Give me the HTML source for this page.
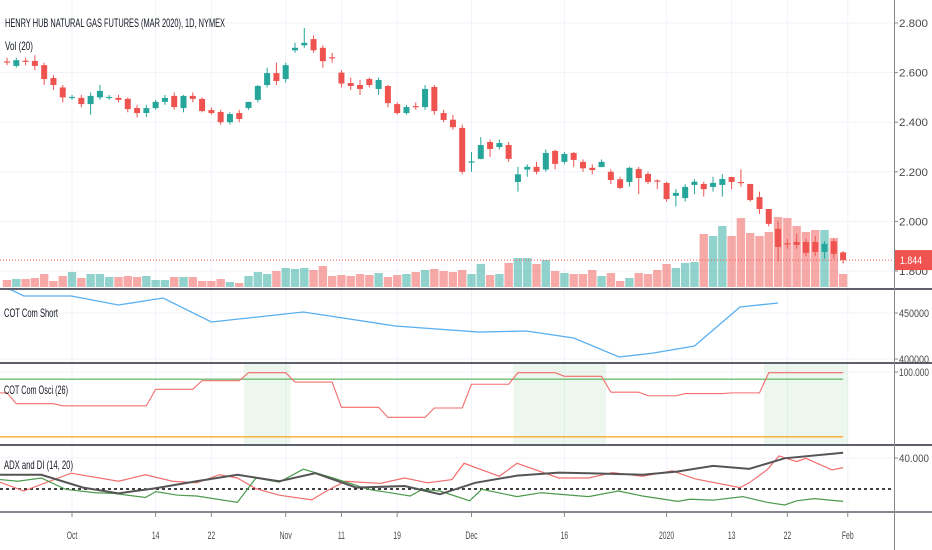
<!DOCTYPE html>
<html><head><meta charset="utf-8"><style>
html,body{margin:0;padding:0;background:#fff;}
svg{display:block;font-family:"Liberation Sans",sans-serif;}
</style></head><body>
<svg id="chart" width="932" height="550" viewBox="0 0 932 550" xmlns="http://www.w3.org/2000/svg">
<g id="grid"></g>
<g id="vol"></g>
<g id="candles"></g>
<g id="panes"></g>
<g id="axes"></g>
<text x="5" y="27" font-size="12" fill="#131722" textLength="220" lengthAdjust="spacingAndGlyphs">HENRY HUB NATURAL GAS FUTURES (MAR 2020), 1D, NYMEX</text>
<text x="5" y="50" font-size="12" fill="#131722" textLength="28" lengthAdjust="spacingAndGlyphs">Vol (20)</text>
<text x="4" y="317" font-size="12" fill="#131722" textLength="54" lengthAdjust="spacingAndGlyphs">COT Com Short</text>
<text x="4" y="394" font-size="12" fill="#131722" textLength="64" lengthAdjust="spacingAndGlyphs">COT Com Osci (26)</text>
<text x="4" y="469" font-size="12" fill="#131722" textLength="69" lengthAdjust="spacingAndGlyphs">ADX and DI (14, 20)</text>
</svg>
<script>
const opens=[2.645,2.627,2.648,2.647,2.630,2.578,2.540,2.500,2.498,2.473,2.500,2.500,2.498,2.494,2.457,2.437,2.457,2.482,2.506,2.457,2.506,2.494,2.449,2.441,2.400,2.437,2.457,2.490,2.550,2.598,2.574,2.690,2.710,2.735,2.700,2.662,2.600,2.558,2.550,2.574,2.534,2.546,2.473,2.437,2.465,2.461,2.542,2.437,2.410,2.377,2.238,2.252,2.320,2.300,2.308,2.159,2.209,2.220,2.209,2.284,2.240,2.276,2.240,2.216,2.219,2.200,2.170,2.159,2.211,2.191,2.165,2.155,2.103,2.094,2.147,2.151,2.139,2.147,2.179,2.159,2.151,2.098,2.050,1.970,1.912,1.917,1.917,1.917,1.877,1.920,1.875];
const closes=[2.642,2.650,2.645,2.627,2.574,2.550,2.500,2.502,2.473,2.506,2.526,2.502,2.490,2.453,2.437,2.457,2.482,2.498,2.461,2.506,2.494,2.445,2.437,2.400,2.433,2.413,2.482,2.546,2.598,2.566,2.630,2.700,2.720,2.690,2.646,2.658,2.556,2.546,2.534,2.550,2.570,2.477,2.437,2.461,2.461,2.534,2.445,2.409,2.380,2.200,2.242,2.308,2.292,2.316,2.252,2.190,2.220,2.200,2.276,2.232,2.272,2.248,2.214,2.207,2.240,2.167,2.135,2.216,2.175,2.159,2.161,2.090,2.115,2.139,2.160,2.130,2.155,2.171,2.159,2.155,2.086,2.050,1.990,1.897,1.908,1.905,1.873,1.877,1.910,1.869,1.844];
const highs=[2.66,2.66,2.66,2.67,2.64,2.59,2.55,2.51,2.51,2.52,2.55,2.51,2.51,2.50,2.47,2.47,2.49,2.51,2.52,2.51,2.52,2.50,2.46,2.45,2.44,2.45,2.47,2.55,2.62,2.64,2.64,2.72,2.78,2.75,2.71,2.68,2.61,2.58,2.57,2.58,2.58,2.55,2.48,2.47,2.48,2.55,2.55,2.45,2.43,2.39,2.28,2.34,2.33,2.33,2.32,2.22,2.23,2.24,2.29,2.29,2.28,2.28,2.25,2.23,2.25,2.21,2.18,2.22,2.22,2.20,2.17,2.16,2.13,2.15,2.17,2.16,2.18,2.19,2.18,2.21,2.15,2.12,2.05,2.00,1.93,1.95,1.93,1.94,1.92,1.93,1.88];
const lows=[2.63,2.62,2.63,2.61,2.55,2.53,2.48,2.49,2.46,2.43,2.49,2.49,2.48,2.44,2.42,2.42,2.45,2.47,2.45,2.44,2.48,2.44,2.43,2.39,2.39,2.40,2.45,2.48,2.54,2.55,2.56,2.68,2.70,2.68,2.62,2.64,2.54,2.53,2.51,2.54,2.51,2.46,2.43,2.43,2.45,2.45,2.43,2.40,2.37,2.19,2.20,2.25,2.26,2.29,2.24,2.12,2.18,2.19,2.20,2.21,2.23,2.22,2.20,2.19,2.22,2.15,2.13,2.14,2.11,2.15,2.13,2.08,2.06,2.08,2.11,2.10,2.12,2.10,2.13,2.14,2.08,2.03,1.98,1.84,1.89,1.89,1.86,1.86,1.85,1.85,1.83];
const volumes=[7,8,8,9,13,6,11,15,9,13,13,10,10,11,10,11,7,7,10,10,10,6,6,8,5,4,11,15,13,16,19,18,19,17,21,11,12,11,13,12,14,10,12,13,15,17,18,16,15,17,13,23,12,13,24,29,29,23,27,16,14,13,13,17,11,14,6,9,14,13,17,23,19,24,25,53,51,61,51,69,54,51,55,70,69,61,55,57,57,49,13];
const priceTicks=[2.8,2.6,2.4,2.2,2.0,1.8];
const priceTickLabels=["2.800","2.600","2.400","2.200","2.000","1.800"];
const lastPrice=1.844;
const dateTickIdx=[7,16,22,30,36,42,50,60,71,78,84,90.5];
const dateTickLabels=["Oct","14","22","Nov","11","19","Dec","16","2020","13","22","Feb"];
const cotShortIdx=[-1,0.5,1.8,6.9,12,16.8,22,31.9,41.8,50.8,55.9,61,65.9,69.6,74,78.9,83];
const cotShortVals=[478000,475000,468500,468500,458700,466300,440200,451100,435900,429300,430400,422800,402200,406500,414100,456500,460900];
const cotShortTicks=[450000,400000];
const osciStartIdx=[-1,1,6,16,21,26,31,36,41,46,50,55,60,65,69,73,78,82];
const osciVals=[71,56,53,76,88,99,86,51,37,50,83,99,94,72,67,70,71,99];
const osciEndIdx=90;
const osciUpper=90, osciLower=10;
const plusDiIdx=[-0.75,1.8,6.9,12,14.9,17.8,20.4,22.9,24.8,26.8,29.3,32.8,34.4,36.4,40.2,42.8,45.3,47.9,49.2,53,54.9,59.4,62.6,65.2,68.4,71.6,74.1,78.9,79.9,81.8,83.1,85,86,88.8,90];
const plusDiVals=[24.4,18.7,30.2,25,29.2,25,24,29.2,27.1,20.2,16,13,18.7,25,23.6,27.1,24,26.1,36.6,28.2,36.6,27.1,27.1,30.6,28.2,31.7,26.5,20.9,24,32.3,41.3,37.7,39.8,32.3,33.8];
const minusDiIdx=[-0.75,1.16,3.7,6.3,9.5,11.4,14.9,16,18.4,20.4,24.8,26.8,29.3,31.9,35.1,38.9,43.4,44.7,46.6,49.8,51.1,54.9,57.5,62.6,65.8,68.4,72.2,73.5,76,79.2,81.8,83.7,85,86.9,90];
const minusDiVals=[26.1,25,27.1,19.8,17.6,17.2,14.5,18.3,16,15.5,11.4,27.1,24.4,32.8,27.1,19.8,15.5,19.8,18.7,12.4,19.8,15.1,17.6,15.1,18.7,15.5,12,13.4,12.8,15.1,11.4,9.7,12.4,13.8,12];
const adxIdx=[-0.75,3.7,8.2,12,15.9,20.4,24.8,29.3,33.2,37.6,42.8,46.6,50.4,54.9,59.4,62.6,68.4,72.2,76,79.9,83.7,90];
const adxVals=[29.2,29.2,20.9,17.2,20.4,25,29.2,25,30.2,20.9,21.9,16.6,24,28.6,30.6,30.2,29.2,31.3,34.9,33,39.8,43.4];
const adxLevel=20;
const adxTicks=[40];

const NS="http://www.w3.org/2000/svg";
const PW=894;
function X(i){return 7+i*9.29;}
function yP(p){return 23+(2.8-p)*248;}
function yVol(v){return 287-v;}
function yCS(v){return 313+(450000-v)/50000*46;}
function yOs(v){return 444-v*0.72;}
function yAdx(v){return 520-v*1.55;}
function mk(tag,attrs,parent){const e=document.createElementNS(NS,tag);for(const k in attrs)e.setAttribute(k,attrs[k]);parent.appendChild(e);return e;}
const svg=document.getElementById('chart');
const grid=document.getElementById('grid');
const volG=document.getElementById('vol');
const cg=document.getElementById('candles');
const panes=document.getElementById('panes');
const axes=document.getElementById('axes');

// clip paths
const defs=mk('defs',{},svg);
[['cMain',0,0,289],['cShort',0,290,73],['cOsc',0,364,81],['cAdx',0,446,66]].forEach(a=>{
 const cp=mk('clipPath',{id:a[0]},defs);mk('rect',{x:a[1],y:a[2],width:PW,height:a[3]},cp);});

// vertical grid
dateTickIdx.forEach((d,k)=>{
 const l=mk('line',{x1:X(d),x2:X(d),y1:0,y2:512,stroke:'#f0f3fa','stroke-width':1},grid);
 
 
});
priceTicks.forEach(p=>{
 const l=mk('line',{x1:0,x2:PW,y1:yP(p),y2:yP(p),stroke:'#f0f3fa'},grid);
 
 
});
cotShortTicks.forEach(v=>{mk('line',{x1:0,x2:PW,y1:yCS(v),y2:yCS(v),stroke:'#f0f3fa'},grid);});
mk('line',{x1:0,x2:PW,y1:yOs(100),y2:yOs(100),stroke:'#f0f3fa'},grid);
adxTicks.forEach(v=>{mk('line',{x1:0,x2:PW,y1:yAdx(v),y2:yAdx(v),stroke:'#f0f3fa'},grid);});

// volume
volumes.forEach((v,i)=>{
 const up=closes[i]>=opens[i];
 const r=mk('rect',{x:X(i)-4.2,y:yVol(v),width:8.4,height:v,fill:up?'rgba(38,166,154,0.5)':'rgba(239,83,80,0.5)'},volG);
 
 
});
// last price line
const lp=mk('line',{x1:0,x2:PW,y1:yP(lastPrice),y2:yP(lastPrice),stroke:'#ef5350','stroke-width':1,'stroke-dasharray':'1,2'},cg);


// candles
opens.forEach((o,i)=>{
 const c=closes[i],up=c>=o,col=up?'#26a69a':'#ef5350';
 const g=mk('g',{},cg);
 
 
 const hi=Math.max(highs[i],o,c),lo=Math.min(lows[i],o,c);
 mk('line',{x1:X(i),x2:X(i),y1:yP(hi),y2:yP(lo),stroke:col,'stroke-width':1},g);
 const t=yP(Math.max(o,c)),b=yP(Math.min(o,c));
 mk('rect',{x:X(i)-3,y:t,width:6,height:Math.max(1.2,b-t),fill:col},g);
});

// COT short line
let pts=cotShortIdx.map((d,k)=>X(d)+','+yCS(cotShortVals[k])).join(' ');
const cs=mk('polyline',{points:pts,fill:'none',stroke:'#5ab0f0','stroke-width':1.3,'clip-path':'url(#cShort)'},panes);



// osci shading
for(let k=0;k<osciStartIdx.length;k++){
 const s=osciStartIdx[k],e=(k+1<osciStartIdx.length?osciStartIdx[k+1]:osciEndIdx+1);
 if(osciVals[k]>=osciUpper){
  const r=mk('rect',{x:X(s-0.5),y:364,width:X(e-0.5)-X(s-0.5),height:80,fill:'rgba(76,175,80,0.1)'},panes);
  
  
 }
}
const ul=mk('line',{x1:0,x2:X(osciEndIdx),y1:yOs(osciUpper),y2:yOs(osciUpper),stroke:'#4caf50','stroke-width':1.3,opacity:0.8},panes);


const ll=mk('line',{x1:0,x2:X(osciEndIdx),y1:yOs(osciLower),y2:yOs(osciLower),stroke:'#ff9800','stroke-width':1.3,opacity:0.8},panes);


let op=[];
for(let k=0;k<osciStartIdx.length;k++){
 const s=osciStartIdx[k],e=(k+1<osciStartIdx.length?osciStartIdx[k+1]-1:osciEndIdx);
 op.push(X(s)+','+yOs(osciVals[k]));op.push(X(e)+','+yOs(osciVals[k]));
}
const ol=mk('polyline',{points:op.join(' '),fill:'none',stroke:'#f26d6d','stroke-width':1.1,'clip-path':'url(#cOsc)'},panes);



// ADX pane
const dl=mk('line',{x1:0,x2:PW,y1:yAdx(adxLevel),y2:yAdx(adxLevel),stroke:'#000','stroke-width':1.5,'stroke-dasharray':'3,3'},panes);


function series(idx,vals,col,w,name){
 const p=mk('polyline',{points:idx.map((d,k)=>X(d)+','+yAdx(vals[k])).join(' '),fill:'none',stroke:col,'stroke-width':w,'clip-path':'url(#cAdx)'},panes);
 return p;
}
const pd=series(plusDiIdx,plusDiVals,'#f26d6d',1.2);


const md=series(minusDiIdx,minusDiVals,'#4c9a4c',1.2);


const ad=series(adxIdx,adxVals,'#555',2);



// separators & axes
[289,363,445].forEach(y=>{
 const s=mk('line',{x1:0,x2:932,y1:y,y2:y,stroke:'#5d606b','stroke-width':2},axes);
 
 
});
mk('line',{x1:0,x2:932,y1:512,y2:512,stroke:'#5d606b','stroke-width':1.5},axes);
mk('line',{x1:PW+0.5,x2:PW+0.5,y1:0,y2:550,stroke:'#888','stroke-width':1},axes);
function axisLabel(y,txt,name){
 mk('line',{x1:PW,x2:PW+4,y1:y,y2:y,stroke:'#888'},axes);
 const t=mk('text',{x:899,y:y+4,'font-size':11,fill:'#4a4a4a',textLength:txt.length>5?30:29,lengthAdjust:'spacingAndGlyphs'},axes);
 t.textContent=txt;
 
 
}
priceTicks.forEach((p,k)=>{axisLabel(yP(p),priceTickLabels[k],'price-tick-label');});
cotShortTicks.forEach(v=>{axisLabel(yCS(v),String(v),'cot-short-tick-label');});
axisLabel(yOs(100),'100.000','osci-tick-label');
adxTicks.forEach(v=>{axisLabel(yAdx(v),v.toFixed(3),'adx-tick-label');});
// last price label
const lb=mk('rect',{x:895,y:yP(lastPrice)-10,width:37,height:20,fill:'#ef5350'},axes);


const lt=mk('text',{x:900,y:yP(lastPrice)+4,'font-size':11,fill:'#fff',textLength:22,lengthAdjust:'spacingAndGlyphs'},axes);
lt.textContent=lastPrice.toFixed(3);


// date axis
dateTickIdx.forEach((d,k)=>{
 mk('line',{x1:X(d),x2:X(d),y1:512,y2:517,stroke:'#888'},axes);
 const t=mk('text',{x:X(d),y:539,'font-size':11,fill:'#4a4a4a','text-anchor':'middle'},axes);
 t.textContent=dateTickLabels[k];
 t.setAttribute('transform','translate('+X(d)+',0) scale(0.62,1) translate('+(-X(d))+',0)');
 
 
});
</script>
</body></html>
